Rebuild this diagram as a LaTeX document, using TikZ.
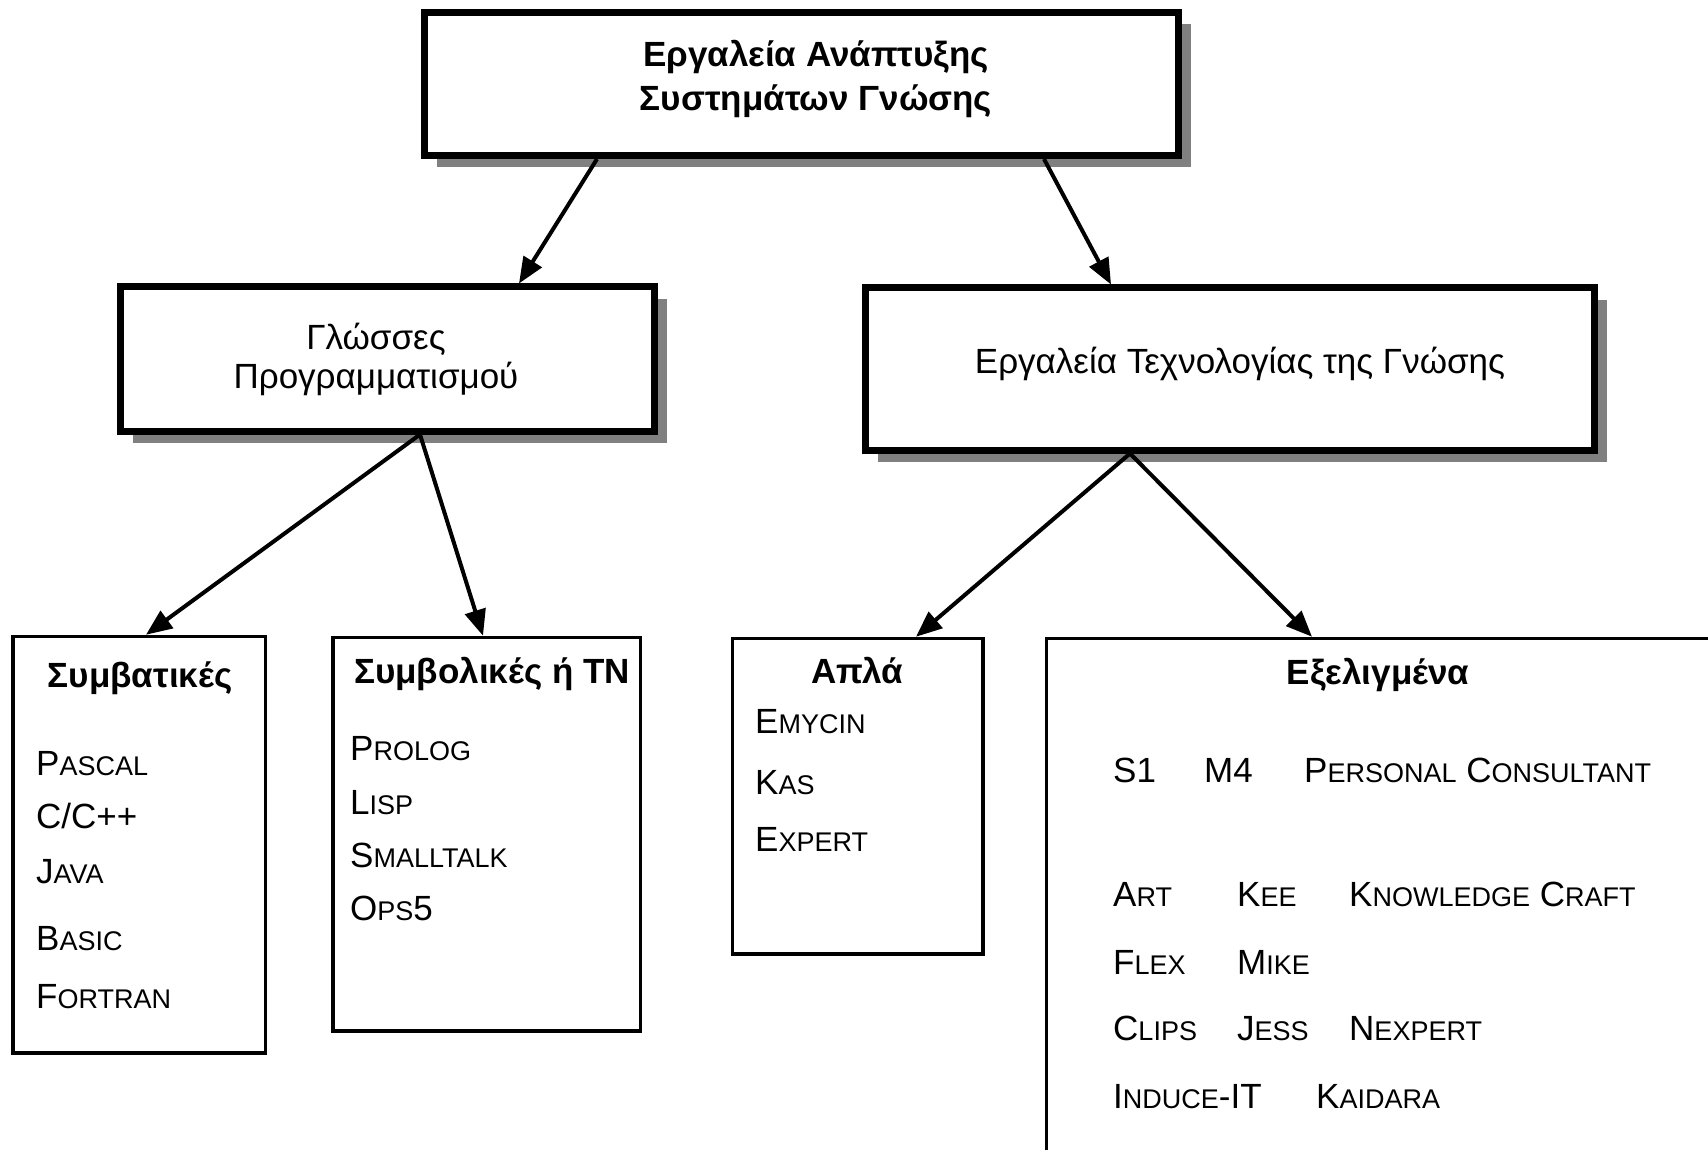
\documentclass[tikz,border=0pt]{standalone}
\usepackage{fontspec}
\setmainfont{Liberation Sans}
\usetikzlibrary{arrows.meta,calc,shadows}
\definecolor{shadowgray}{RGB}{128,128,128}
\newcommand\smc[2]{#1{\fontsize{27}{27}\selectfont #2}}
\begin{document}
\begin{tikzpicture}[x=1pt,y=-1pt,
  bigbox/.style={draw, line width=7pt, fill=white, inner sep=0pt, outer sep=0pt, anchor=north west,
    drop shadow={shadow xshift=12pt, shadow yshift=-12pt, fill=shadowgray, opacity=1}},
  smallbox/.style={draw, line width=3.5pt, fill=white, inner sep=0pt, outer sep=0pt, anchor=north west},
  txt/.style={inner sep=0pt, anchor=base west, font=\fontsize{35}{42}\selectfont},
  ctxt/.style={inner sep=0pt, anchor=base, font=\fontsize{35}{42}\selectfont},
  ttl/.style={inner sep=0pt, anchor=base, font=\bfseries\fontsize{35}{42}\selectfont},
  arr/.style={line width=4pt, -{Triangle[length=26pt,width=21pt]}}]
\path[use as bounding box, clip] (0,0) rectangle (1708,1150);
\fill[white] (0,0) rectangle (1708,1150);

% boxes
\node[bigbox, minimum width=754pt, minimum height=143pt] (top) at (424.5,12.5) {};
\node[bigbox, minimum width=534pt, minimum height=144pt] (lang) at (120.5,287) {};
\node[bigbox, minimum width=729pt, minimum height=162pt] (tools) at (865.5,288) {};
\node[smallbox, minimum width=252.5pt, minimum height=416.5pt] (conv) at (13,636.5) {};
\node[smallbox, minimum width=307.5pt, minimum height=393.5pt] (sym) at (333,637.5) {};
\node[smallbox, minimum width=250.5pt, minimum height=315.5pt] (simple) at (732.5,638.5) {};
\node[smallbox, minimum width=700pt, minimum height=600pt] (adv) at (1046.5,638.5) {};

% arrows
\draw[arr] ($(top.south west)+(172.5,3.5)$) -- ($(lang.north west)+(398.5,-3.5)$);
\draw[arr] ($(top.south west)+(619.5,3.5)$) -- ($(tools.north west)+(245.5,-3.5)$);
\draw[arr] ($(lang.south west)+(299.5,3.5)$) -- ($(conv.north west)+(133,-1.75)$);
\draw[arr] ($(lang.south west)+(299.5,3.5)$) -- ($(sym.north west)+(150,-1.75)$);
\draw[arr] ($(tools.south west)+(264.5,3.5)$) -- ($(simple.north west)+(183.5,-1.75)$);
\draw[arr] ($(tools.south west)+(264.5,3.5)$) -- ($(adv.north west)+(265.5,-1.75)$);

% top texts
\node[ttl] (t1) at (816,67) {Εργαλεία Ανάπτυξης};
\node[ttl] (t2) at (816,111) {Συστημάτων Γνώσης};
\node[ctxt] (l1) at (376,349) {Γλώσσες};
\node[ctxt] (l2) at (376,388) {Προγραμματισμού};
\node[ctxt] (r1) at (1240,373) {Εργαλεία Τεχνολογίας της Γνώσης};

% titles
\node[ttl] (h1) at (140,687) {Συμβατικές};
\node[ttl] (h2) at (492,683) {Συμβολικές ή TN};
\node[ttl] (h3) at (857,683) {Απλά};
\node[ttl] (h4) at (1378,684) {Εξελιγμένα};

% conventional
\node[txt] (c1) at (36,775) {\smc{P}{ASCAL}};
\node[txt] (c2) at (36,828) {C/C++};
\node[txt] (c3) at (36,883) {\smc{J}{AVA}};
\node[txt] (c4) at (36,950) {\smc{B}{ASIC}};
\node[txt] (c5) at (36,1008) {\smc{F}{ORTRAN}};

% symbolic
\node[txt] (s1) at (350,760) {\smc{P}{ROLOG}};
\node[txt] (s2) at (350,814) {\smc{L}{ISP}};
\node[txt] (s3) at (350,867) {\smc{S}{MALLTALK}};
\node[txt] (s4) at (350,920) {\smc{O}{PS}5};

% simple
\node[txt] (p1) at (755,733) {\smc{E}{MYCIN}};
\node[txt] (p2) at (755,794) {\smc{K}{AS}};
\node[txt] (p3) at (755,851) {\smc{E}{XPERT}};

% advanced
\node[txt] (a1) at (1113,782) {S1};
\node[txt] (a2) at (1204,782) {M4};
\node[txt] (a3) at (1304,782) {\smc{P}{ERSONAL} \smc{C}{ONSULTANT}};
\node[txt] (a4) at (1113,906) {\smc{A}{RT}};
\node[txt] (a5) at (1237,906) {\smc{K}{EE}};
\node[txt] (a6) at (1349,906) {\smc{K}{NOWLEDGE} \smc{C}{RAFT}};
\node[txt] (a7) at (1113,974) {\smc{F}{LEX}};
\node[txt] (a8) at (1237,974) {\smc{M}{IKE}};
\node[txt] (a9) at (1113,1040) {\smc{C}{LIPS}};
\node[txt] (a10) at (1237,1040) {\smc{J}{ESS}};
\node[txt] (a11) at (1349,1040) {\smc{N}{EXPERT}};
\node[txt] (a12) at (1113,1108) {\smc{I}{NDUCE}-IT};
\node[txt] (a13) at (1316,1108) {\smc{K}{AIDARA}};
\end{tikzpicture}
\end{document}
